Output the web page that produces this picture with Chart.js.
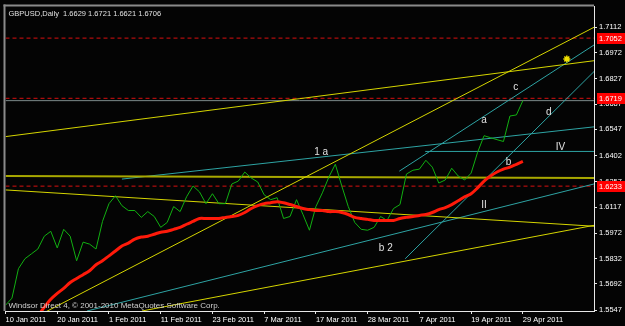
<!DOCTYPE html>
<html><head><meta charset="utf-8">
<script src="https://cdn.jsdelivr.net/npm/chart.js@4/dist/chart.umd.min.js"></script>
<style>html,body{margin:0;padding:0;background:#000;overflow:hidden}canvas{display:block}</style>
</head><body>
<canvas id="c" width="625" height="326"></canvas>
<script>
// ---- data ----
const dateLabels = ['10 Jan 2011','20 Jan 2011','1 Feb 2011','11 Feb 2011','23 Feb 2011','7 Mar 2011','17 Mar 2011','28 Mar 2011','7 Apr 2011','19 Apr 2011','29 Apr 2011'];
const dateTickBars = [0,8,16,24,32,40,48,56,64,72,80];
const closePrices = [
1.5574,1.5613,1.5776,1.5831,1.5858,1.5885,1.5956,1.5983,1.5891,1.5994,
1.5956,1.5820,1.5923,1.5912,1.5885,1.6038,1.6136,1.6180,1.6125,1.6098,
1.6098,1.6060,1.6092,1.6065,1.6005,1.6032,1.6120,1.6092,1.6174,1.6234,
1.6201,1.6136,1.6191,1.6136,1.6136,1.6245,1.6261,1.6311,1.6278,1.6256,
1.6185,1.6158,1.6169,1.6054,1.6065,1.6158,1.6076,1.5989,1.6120,1.6196,
1.6283,1.6354,1.6234,1.6120,1.6032,1.5994,1.5989,1.6005,1.6065,1.6043,
1.6109,1.6131,1.6300,1.6321,1.6327,1.6376,1.6338,1.6250,1.6267,1.6332,
1.6289,1.6267,1.6305,1.6420,1.6512,1.6501,1.6490,1.6480,1.6621,1.6627,
1.6706];
const maPrices = [
null,null,null,null,null,1.5514,1.5563,1.5607,1.5640,1.5667,
1.5700,1.5722,1.5743,1.5765,1.5798,1.5820,1.5847,1.5874,1.5902,1.5918,
1.5940,1.5951,1.5956,1.5967,1.5978,1.5983,1.5994,1.6005,1.6022,1.6038,
1.6054,1.6054,1.6054,1.6054,1.6060,1.6065,1.6071,1.6087,1.6109,1.6125,
1.6136,1.6141,1.6147,1.6141,1.6131,1.6120,1.6109,1.6103,1.6098,1.6098,
1.6092,1.6092,1.6087,1.6076,1.6060,1.6054,1.6049,1.6043,1.6043,1.6043,
1.6043,1.6054,1.6060,1.6065,1.6071,1.6076,1.6087,1.6103,1.6114,1.6131,
1.6152,1.6174,1.6191,1.6223,1.6261,1.6289,1.6311,1.6327,1.6338,1.6354,
1.6370];
const yTickValues = [1.7112,1.6972,1.6827,1.6687,1.6547,1.6402,1.6257,1.6117,1.5972,1.5832,1.5692,1.5547];
// trend lines: [bar1, price1, bar2, price2]
const yellowLines = [
  [0,1.6507,91,1.6927],
  [6.15,1.5536,91,1.7112],
  [0,1.6212,91,1.6011],
  [21.1,1.5542,91,1.6016]
];
const oliveLines = [[0,1.6289,91,1.6278]];
const tealLines = [
  [18,1.6272,91,1.6561],
  [64.9,1.6425,91,1.6425],
  [60.9,1.6316,91,1.7014],
  [61.8,1.5831,91,1.6867],
  [12.6,1.5542,91,1.6245]
];
const redLevels = [1.7052,1.6719,1.6233];
const bidLevel = 1.6706;
const waveLabels = ['1 a','a','c','d','b','IV','II','b 2'];
const waveLabelBars = [48.8,74.0,78.9,84.0,77.8,85.8,74.0,58.8];
const waveLabelPrices = [1.6420,1.6599,1.6779,1.6643,1.6365,1.6447,1.6125,1.5891];
const markerBars = [86.8];
const markerPrices = [1.6937];
const titleText = 'GBPUSD,Daily  1.6629 1.6721 1.6621 1.6706';
const footerText = 'Windsor Direct 4, \u00A9 2001-2010 MetaQuotes Software Corp.';
const xMin = 0, xMax = 91, yMin = 1.5542, yMax = 1.7227;

// ---- build datasets ----
function seg(l, color, width, dash) {
  return {data:[{x:l[0],y:l[1]},{x:l[2],y:l[3]}], borderColor:color, borderWidth:width,
    borderDash:dash||[], pointRadius:0, tension:0, clip:0, fill:false};
}
const datasets = [];
datasets.push({data: maPrices.map((v,i)=>({x:i,y:v})), borderColor:'#ff1a0a', borderWidth:3, pointRadius:0, tension:0.3, clip:0, fill:false});
datasets.push({data: closePrices.map((v,i)=>({x:i,y:v})), borderColor:'#12b012', borderWidth:1, pointRadius:0, tension:0, clip:0, fill:false});
datasets.push({type:'scatter', data: markerBars.map((b,i)=>({x:b,y:markerPrices[i]})), pointStyle:'star', pointRadius:3.5, borderColor:'#f0e000', borderWidth:1.5, backgroundColor:'#f0e000', clip:0});
yellowLines.forEach(l=>datasets.push(seg(l,'#d6d600',1)));
oliveLines.forEach(l=>datasets.push(seg(l,'#a8a800',2)));
tealLines.forEach(l=>datasets.push(seg(l,'#2ea4a4',1)));
redLevels.forEach(v=>datasets.push(seg([xMin,v,xMax,v],'#d81010',1,[4,3])));
datasets.push(seg([xMin,bidLevel,xMax,bidLevel],'#7c8a8a',1));

const FONT = '"Liberation Sans", Arial, sans-serif';

const mtPlugin = {
  id:'mt',
  beforeDraw(chart){
    const ctx = chart.ctx; ctx.save();
    ctx.fillStyle = '#040404'; ctx.fillRect(0,0,chart.width,chart.height);
    ctx.restore();
  },
  afterDatasetsDraw(chart){
    const ctx = chart.ctx, xs = chart.scales.x, ys = chart.scales.y, a = chart.chartArea;
    ctx.save();
    // gray frame top/left
    ctx.fillStyle = '#8a8a8a';
    ctx.fillRect(a.left-2, a.top-2, a.right-a.left+2, 2);
    ctx.fillRect(a.left-2, a.top-2, 2, a.bottom-a.top+2);
    // wave labels
    ctx.fillStyle = '#e2e2e2';
    ctx.font = '10px ' + FONT;
    ctx.textAlign = 'center'; ctx.textBaseline = 'middle';
    waveLabels.forEach((t,i)=>{
      ctx.fillText(t, xs.getPixelForValue(waveLabelBars[i]), ys.getPixelForValue(waveLabelPrices[i]));
    });
    // title & footer
    ctx.textAlign = 'left';
    ctx.font = '7.5px ' + FONT;
    ctx.fillStyle = '#e0e0e0';
    ctx.fillText(titleText, a.left+3, a.top+7);
    ctx.font = '8px ' + FONT;
    ctx.fillStyle = '#d0d0d0';
    ctx.fillText(footerText, a.left+3, a.bottom-5);
    ctx.restore();
  },
  afterDraw(chart){
    const ctx = chart.ctx, ys = chart.scales.y, a = chart.chartArea;
    ctx.save();
    ctx.font = '7.5px ' + FONT;
    ctx.textAlign = 'left'; ctx.textBaseline = 'middle';
    redLevels.forEach(v=>{
      const y = Math.round(ys.getPixelForValue(v));
      ctx.fillStyle = '#ff0000';
      ctx.fillRect(a.right+3, y-5, chart.width-a.right-3, 11);
      ctx.fillStyle = '#ffffff';
      ctx.fillText(v.toFixed(4), a.right+5, y+0.5);
    });
    ctx.restore();
  }
};

new Chart(document.getElementById('c'), {
  type:'line',
  data:{datasets},
  plugins:[mtPlugin],
  options:{
    responsive:false, animation:false, devicePixelRatio:1,
    layout:{padding:{left:3, top:2, right:0, bottom:0}},
    plugins:{legend:{display:false}, tooltip:{enabled:false}, title:{display:false}},
    elements:{line:{borderCapStyle:'butt'}},
    scales:{
      x:{type:'linear', min:xMin, max:xMax, position:'bottom',
        afterFit(s){ s.height = 15; },
        afterBuildTicks(s){ s.ticks = dateTickBars.map(v=>({value:v})); },
        border:{display:true, color:'#e8e8e8', width:1},
        grid:{drawOnChartArea:false, drawTicks:true, tickLength:3, tickColor:'#e8e8e8'},
        ticks:{autoSkip:false, maxRotation:0, minRotation:0, align:'start', padding:1, color:'#ffffff',
          font:{family:FONT, size:7.5},
          callback:(v,i)=>dateLabels[i]}
      },
      y:{type:'linear', min:yMin, max:yMax, position:'right',
        afterFit(s){ s.width = 31; },
        afterBuildTicks(s){ s.ticks = yTickValues.map(v=>({value:v})); },
        border:{display:true, color:'#e8e8e8', width:1},
        grid:{drawOnChartArea:false, drawTicks:true, tickLength:3, tickColor:'#e8e8e8'},
        ticks:{autoSkip:false, padding:2, color:'#ffffff', font:{family:FONT, size:7.5},
          callback:(v)=>Number(v).toFixed(4)}
      }
    }
  }
});
</script>
</body></html>
